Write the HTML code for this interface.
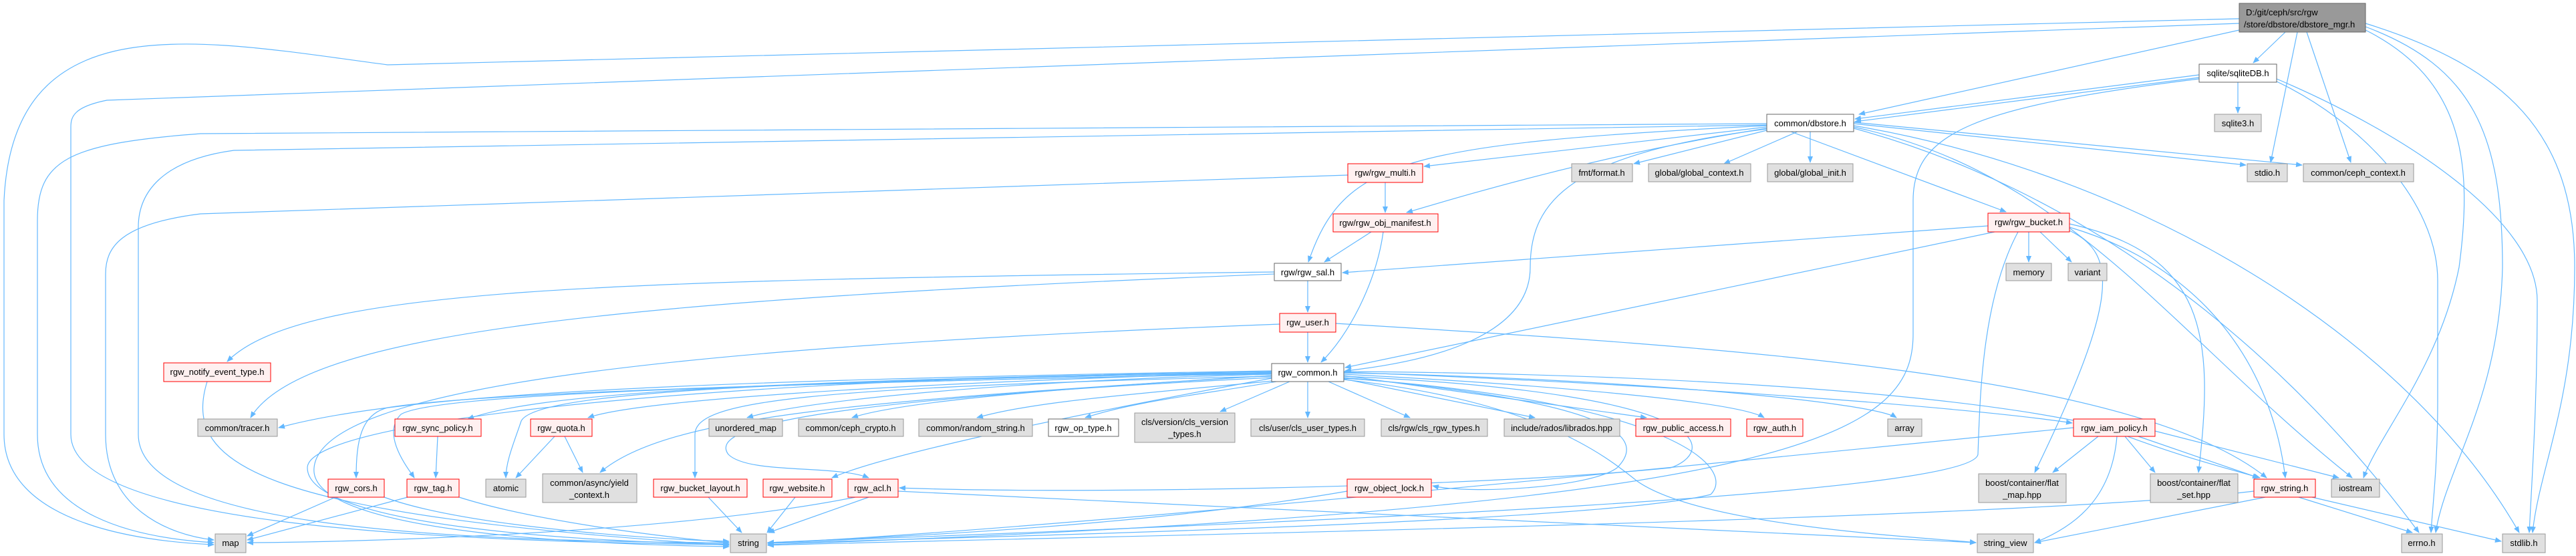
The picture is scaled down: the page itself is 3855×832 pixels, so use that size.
<!DOCTYPE html>
<html><head><meta charset="utf-8"><style>
html,body{margin:0;padding:0;background:#fff;width:3855px;height:832px;overflow:hidden}
svg{display:block}
text{font-family:"Liberation Sans Narrow","Liberation Sans",sans-serif;font-size:13px;fill:#000;text-anchor:middle}
.e{fill:none;stroke:#63b8ff;stroke-width:1.2}
.g{fill:#e0e0e0;stroke:#999}
.w{fill:#fff;stroke:#666}
.r{fill:#fff0f0;stroke:#ff0000}
.m{fill:#999;stroke:#666}
</style></head><body>
<svg width="3855" height="832" viewBox="0 0 3855 832">
<defs><marker id="a" markerWidth="10" markerHeight="8" refX="9" refY="4" orient="auto" markerUnits="userSpaceOnUse"><path d="M0,0 L10,4 L0,8 z" fill="#63b8ff"/></marker></defs>
<g class="e" marker-end="url(#a)">
<!-- main -->
<path d="M3420,48 L3372,94"/>
<path d="M3351,45 L2782,171"/>
<path d="M3438,48 L3398,243"/>
<path d="M3452,48 L3518,243"/>
<path d="M3540,45 C3690,120 3700,250 3680,400 C3650,550 3560,650 3537,715"/>
<path d="M3540,40 C3700,100 3745,200 3745,400 C3740,600 3660,700 3645,797"/>
<path d="M3540,35 C3750,100 3853,200 3853,400 C3853,600 3800,700 3790,797"/>
<path d="M3351,28 L580,97 C300,60 20,0 6,300 L6,650 C6,780 200,810 320,815"/>
<path d="M3351,35 L160,150 C110,160 106,175 106,190 L106,650 C106,780 600,810 1091,815"/>
<!-- sqlite -->
<path d="M3349,123 L3349,169"/>
<path d="M3291,112 L2776,178"/>
<path d="M3291,116 L2776,182"/>
<path d="M3291,118 C2950,160 2863,200 2863,300 L2863,500 C2863,650 2700,760 1149,815"/>
<path d="M3407,122 C3530,180 3648,300 3648,420 L3648,600 C3648,700 3640,760 3638,797"/>
<path d="M3407,118 C3600,200 3797,330 3797,450 C3797,600 3790,700 3785,797"/>
<!-- dbstore -->
<path d="M2709,197 L2709,243"/>
<path d="M2690,197 L2580,245"/>
<path d="M2644,195 L2445,245"/>
<path d="M2644,190 L2131,249"/>
<path d="M2644,192 C2400,230 2200,290 2105,318"/>
<path d="M2644,188 C2100,215 2010,240 1958,392"/>
<path d="M2644,193 C2350,230 2290,300 2290,400 C2290,500 2150,540 2013,555"/>
<path d="M2680,197 L3002,317"/>
<path d="M2774,185 L3361,247"/>
<path d="M2774,183 L3445,247"/>
<path d="M2774,190 C3100,260 3250,500 3520,715"/>
<path d="M2774,192 C3100,280 3400,500 3620,797"/>
<path d="M2774,188 C3200,260 3600,500 3770,797"/>
<path d="M2644,185 L300,200 C100,215 56,240 56,330 L56,650 C56,770 200,805 320,812"/>
<path d="M2644,187 L350,225 C240,240 207,290 207,340 L207,650 C207,780 600,810 1091,812"/>
<!-- multi / manifest / sal -->
<path d="M2073,273 L2073,318"/>
<path d="M2017,262 L300,320 C180,335 158,370 158,410 L158,650 C158,760 250,800 320,808"/>
<path d="M2052,347 L1982,392"/>
<path d="M2070,347 C2060,420 2020,500 1977,542"/>
<path d="M1957,420 L1957,467"/>
<path d="M1907,407 C900,420 450,430 340,541"/>
<path d="M1907,410 C900,450 450,500 375,625"/>
<!-- user -->
<path d="M1957,497 L1957,542"/>
<path d="M1999,484 C2600,520 3200,560 3392,715"/>
<path d="M1915,485 C1000,520 480,580 470,700 C460,800 900,815 1091,818"/>
<!-- bucket -->
<path d="M2975,338 L2009,408"/>
<path d="M2985,347 L2013,550"/>
<path d="M3036,347 L3036,392"/>
<path d="M3053,347 L3100,392"/>
<path d="M3097,345 C3170,380 3170,450 3045,707"/>
<path d="M3020,347 C2965,450 2963,600 2960,680 C2950,740 2000,780 1149,812"/>
<path d="M3097,335 C3300,380 3315,500 3290,707"/>
<path d="M3097,340 C3300,400 3400,550 3420,715"/>
<!-- common -->
<path d="M1903,560 C1500,570 1200,600 1118,625"/>
<path d="M1903,562 C1600,580 1350,600 1275,625"/>
<path d="M1905,570 C1700,590 1550,600 1462,625"/>
<path d="M1910,571 C1800,590 1700,600 1624,625"/>
<path d="M1930,571 L1826,616"/>
<path d="M1957,571 L1957,625"/>
<path d="M1988,571 L2110,625"/>
<path d="M2011,567 L2297,625"/>
<path d="M2011,562 L2464,625"/>
<path d="M2011,560 C2300,575 2600,600 2640,625"/>
<path d="M2011,558 C2400,565 2800,600 2838,625"/>
<path d="M2011,557 C2500,575 2950,610 3101,633"/>
<path d="M2011,556 C2600,560 3000,600 3150,640 C3250,680 3330,700 3382,715"/>
<path d="M2011,565 C2400,600 2470,650 2420,700 C2380,730 2200,740 2144,727"/>
<path d="M2011,566 C2500,600 2600,700 2560,740 C2400,780 1600,800 1149,813"/>
<path d="M2011,568 C2300,600 2400,680 2450,720 C2550,790 2900,805 2957,812"/>
<path d="M2011,563 C2600,590 2560,680 2500,700 C2200,730 1600,740 1346,730"/>
<path d="M1903,555 C1000,570 600,590 417,640"/>
<path d="M1903,556 C1100,570 800,590 700,627"/>
<path d="M1903,557 C1300,575 950,600 880,625"/>
<path d="M1903,558 C1100,570 800,590 780,630 C770,660 757,690 757,715"/>
<path d="M1903,559 C1100,575 700,590 580,610 C540,620 533,660 533,715"/>
<path d="M1903,559 C1100,575 650,590 600,620 C570,650 610,700 620,715"/>
<path d="M1903,562 C1300,600 1000,620 898,707"/>
<path d="M1903,563 C1200,580 1040,600 1040,650 L1040,715"/>
<path d="M1903,565 C1200,600 1060,640 1090,680 C1120,710 1250,695 1300,715"/>
<path d="M1903,566 C1500,640 1300,690 1245,715"/>
<path d="M1903,558 C1200,560 460,620 460,700 C460,790 900,812 1091,814"/>
<!-- iam -->
<path d="M3140,653 L3072,707"/>
<path d="M3180,653 L3225,707"/>
<path d="M3200,653 L3380,715"/>
<path d="M3225,645 L3500,715"/>
<path d="M3168,653 C3160,750 3100,790 3045,812"/>
<path d="M3103,640 C2500,700 1600,790 1149,813"/>
<!-- rgw_string -->
<path d="M3390,744 L3045,812"/>
<path d="M3440,744 L3610,797"/>
<path d="M3460,744 L3743,810"/>
<path d="M3373,735 C3000,780 1500,805 1149,816"/>
<path d="M2016,735 C1700,790 1300,805 1149,812"/>
<!-- lower left -->
<path d="M1300,744 L1150,797"/>
<path d="M1280,744 C1000,800 500,812 370,812"/>
<path d="M1344,735 L2957,812"/>
<path d="M1190,744 L1148,797"/>
<path d="M1060,744 L1110,797"/>
<path d="M830,653 L772,715"/>
<path d="M845,653 L872,707"/>
<path d="M655,653 L652,715"/>
<path d="M610,744 L370,808"/>
<path d="M687,744 C800,780 1000,805 1091,812"/>
<path d="M502,744 L370,802"/>
<path d="M575,744 C700,790 1000,808 1091,810"/>
<path d="M310,571 C270,700 400,770 1091,816"/>
</g>
<!-- nodes -->
<rect class="m" x="3351" y="5" width="189" height="43"/><text x="3445" y="23" style="text-anchor:start" transform="translate(-84,0)">D:/git/ceph/src/rgw</text><text x="3445" y="41" style="text-anchor:start" transform="translate(-87,0)">/store/dbstore/dbstore_mgr.h</text>
<rect class="w" x="3291" y="96" width="116" height="27"/><text x="3349" y="114">sqlite/sqliteDB.h</text>
<rect class="g" x="3314" y="171" width="70" height="26"/><text x="3349" y="189">sqlite3.h</text>
<rect class="w" x="2644" y="171" width="130" height="26"/><text x="2709" y="189">common/dbstore.h</text>
<rect class="g" x="2645" y="245" width="128" height="27"/><text x="2709" y="263">global/global_init.h</text>
<rect class="g" x="2467" y="245" width="153" height="27"/><text x="2543" y="263">global/global_context.h</text>
<rect class="g" x="2352" y="245" width="91" height="27"/><text x="2397" y="263">fmt/format.h</text>
<rect class="r" x="2017" y="245" width="112" height="28"/><text x="2073" y="263">rgw/rgw_multi.h</text>
<rect class="g" x="3363" y="245" width="60" height="27"/><text x="3393" y="263">stdio.h</text>
<rect class="g" x="3447" y="245" width="165" height="27"/><text x="3529" y="263">common/ceph_context.h</text>
<rect class="r" x="1995" y="320" width="157" height="27"/><text x="2073" y="338">rgw/rgw_obj_manifest.h</text>
<rect class="r" x="2975" y="319" width="122" height="28"/><text x="3036" y="337">rgw/rgw_bucket.h</text>
<rect class="w" x="1907" y="394" width="100" height="26"/><text x="1957" y="412">rgw/rgw_sal.h</text>
<rect class="g" x="3002" y="394" width="68" height="26"/><text x="3036" y="412">memory</text>
<rect class="g" x="3095" y="394" width="58" height="26"/><text x="3124" y="412">variant</text>
<rect class="r" x="1915" y="469" width="84" height="28"/><text x="1957" y="487">rgw_user.h</text>
<rect class="r" x="245" y="543" width="160" height="28"/><text x="325" y="561">rgw_notify_event_type.h</text>
<rect class="w" x="1903" y="544" width="108" height="27"/><text x="1957" y="562">rgw_common.h</text>
<rect class="g" x="296" y="627" width="119" height="26"/><text x="355" y="645">common/tracer.h</text>
<rect class="r" x="591" y="627" width="129" height="26"/><text x="655" y="645">rgw_sync_policy.h</text>
<rect class="r" x="794" y="627" width="92" height="26"/><text x="840" y="645">rgw_quota.h</text>
<rect class="g" x="1061" y="627" width="110" height="26"/><text x="1116" y="645">unordered_map</text>
<rect class="g" x="1195" y="627" width="157" height="26"/><text x="1273" y="645">common/ceph_crypto.h</text>
<rect class="g" x="1375" y="627" width="170" height="26"/><text x="1460" y="645">common/random_string.h</text>
<rect class="w" x="1569" y="627" width="105" height="26"/><text x="1621" y="645">rgw_op_type.h</text>
<rect class="g" x="1698" y="618" width="150" height="44"/><text x="1773" y="636">cls/version/cls_version</text><text x="1773" y="654">_types.h</text>
<rect class="g" x="1872" y="627" width="170" height="26"/><text x="1957" y="645">cls/user/cls_user_types.h</text>
<rect class="g" x="2067" y="627" width="159" height="26"/><text x="2146" y="645">cls/rgw/cls_rgw_types.h</text>
<rect class="g" x="2251" y="627" width="173" height="26"/><text x="2337" y="645">include/rados/librados.hpp</text>
<rect class="r" x="2448" y="627" width="142" height="26"/><text x="2519" y="645">rgw_public_access.h</text>
<rect class="r" x="2614" y="627" width="84" height="26"/><text x="2656" y="645">rgw_auth.h</text>
<rect class="g" x="2825" y="627" width="51" height="26"/><text x="2850" y="645">array</text>
<rect class="r" x="3103" y="627" width="122" height="26"/><text x="3164" y="645">rgw_iam_policy.h</text>
<rect class="r" x="491" y="717" width="84" height="27"/><text x="533" y="735">rgw_cors.h</text>
<rect class="r" x="609" y="717" width="78" height="27"/><text x="648" y="735">rgw_tag.h</text>
<rect class="g" x="727" y="717" width="60" height="27"/><text x="757" y="735">atomic</text>
<rect class="g" x="812" y="709" width="141" height="43"/><text x="882" y="727">common/async/yield</text><text x="882" y="745">_context.h</text>
<rect class="r" x="978" y="717" width="140" height="27"/><text x="1048" y="735">rgw_bucket_layout.h</text>
<rect class="r" x="1142" y="717" width="103" height="27"/><text x="1193" y="735">rgw_website.h</text>
<rect class="r" x="1269" y="717" width="75" height="27"/><text x="1306" y="735">rgw_acl.h</text>
<rect class="r" x="2016" y="717" width="126" height="27"/><text x="2079" y="735">rgw_object_lock.h</text>
<rect class="g" x="2961" y="709" width="131" height="43"/><text x="3026" y="727">boost/container/flat</text><text x="3026" y="745">_map.hpp</text>
<rect class="g" x="3218" y="709" width="131" height="43"/><text x="3283" y="727">boost/container/flat</text><text x="3283" y="745">_set.hpp</text>
<rect class="r" x="3373" y="717" width="92" height="27"/><text x="3419" y="735">rgw_string.h</text>
<rect class="g" x="3489" y="717" width="72" height="27"/><text x="3525" y="735">iostream</text>
<rect class="g" x="322" y="799" width="46" height="28"/><text x="345" y="817">map</text>
<rect class="g" x="1093" y="799" width="54" height="28"/><text x="1120" y="817">string</text>
<rect class="g" x="2959" y="799" width="84" height="28"/><text x="3001" y="817">string_view</text>
<rect class="g" x="3594" y="799" width="61" height="28"/><text x="3624" y="817">errno.h</text>
<rect class="g" x="3745" y="799" width="64" height="28"/><text x="3777" y="817">stdlib.h</text>
</svg>
</body></html>
